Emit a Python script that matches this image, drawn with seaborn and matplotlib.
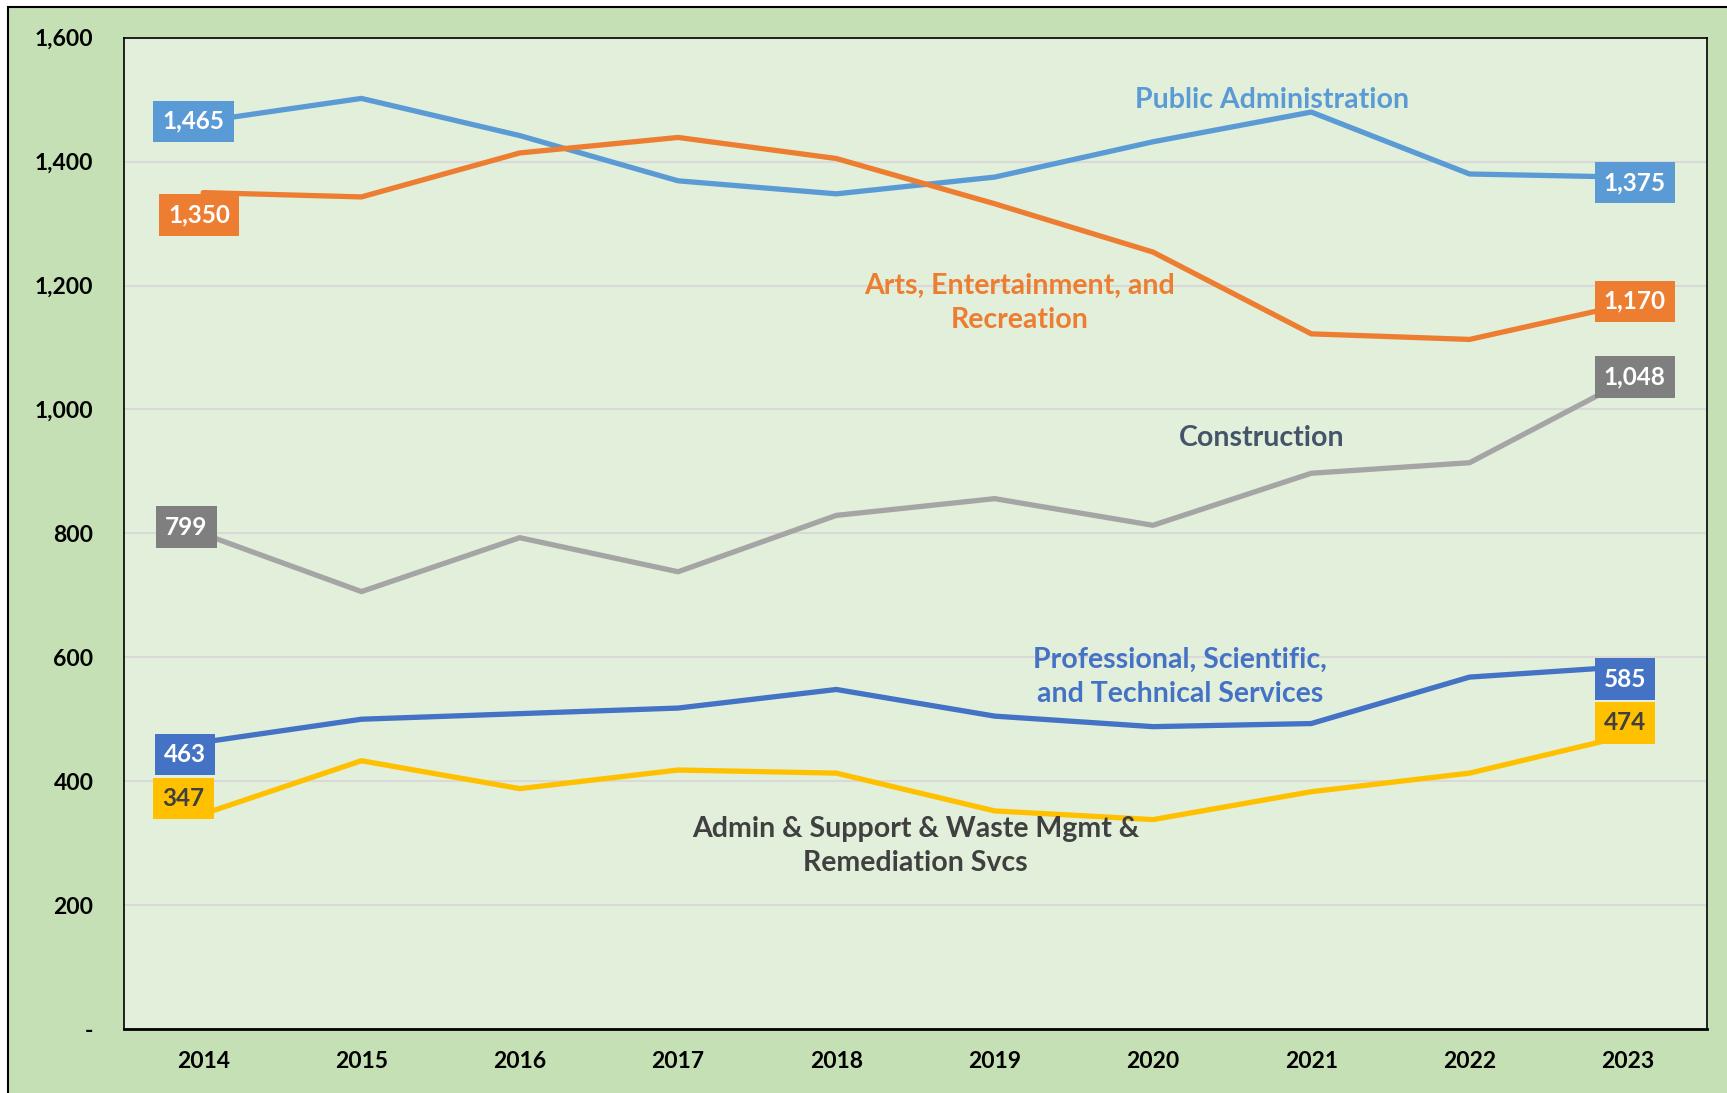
import pandas as pd
import matplotlib.pyplot as plt
import matplotlib.patches as mpatches
from matplotlib.ticker import FuncFormatter
import seaborn as sns

# ---- data ----
years = [2014, 2015, 2016, 2017, 2018, 2019, 2020, 2021, 2022, 2023]

public_admin = [1465, 1502, 1442, 1369, 1348, 1375, 1432, 1480, 1380, 1375]
arts_rec = [1350, 1343, 1414, 1439, 1405, 1332, 1254, 1122, 1113, 1170]
construction = [799, 706, 793, 738, 829, 856, 813, 897, 914, 1048]
prof_sci_tech = [463, 500, 509, 518, 548, 505, 488, 493, 568, 585]
admin_waste = [347, 433, 388, 418, 413, 352, 338, 383, 413, 474]

series_names = ["Public Administration", "Arts, Entertainment, and Recreation",
                "Construction", "Professional, Scientific, and Technical Services",
                "Admin & Support & Waste Mgmt & Remediation Svcs"]
series_values = [public_admin, arts_rec, construction, prof_sci_tech, admin_waste]

line_colors = ["#5B9BD5", "#ED7D31", "#A5A5A5", "#4472C4", "#FFC000"]
box_colors = ["#5B9BD5", "#ED7D31", "#7F7F7F", "#4472C4", "#FFC000"]
box_text = ["white", "white", "white", "white", "#404040"]

# offsets (points) of the first / last value boxes from their points
first_off = [(-7, 0), (-3, -16), (-12, 5), (-13, -9), (-14, 11)]
last_off = [(5, -4), (5, 2), (5, 2), (-2, -9), (-2, 9)]

# series name labels: text, x position (category index), y value, colour
name_text = ["Public Administration", "Arts, Entertainment, and\nRecreation",
             "Construction", "Professional, Scientific,\nand Technical Services",
             "Admin & Support & Waste Mgmt &\nRemediation Svcs"]
name_x = [6.75, 5.16, 6.69, 6.17, 4.5]
name_y = [1500, 1172, 954, 568, 295]
name_colors = ["#5B9BD5", "#ED7D31", "#44546A", "#4472C4", "#404040"]

# ---- long table for seaborn ----
rows = []
for name, vals in zip(series_names, series_values):
    for i, (yr, v) in enumerate(zip(years, vals)):
        rows.append({"idx": i, "Year": yr, "Value": v, "Series": name})
df = pd.DataFrame(rows)

sns.set_theme(style="white")
plt.rcParams["font.family"] = ["Lato", "DejaVu Sans"]

fig = plt.figure(figsize=(17.27, 10.93), dpi=100, facecolor="white")

ax = fig.add_axes([124 / 1727, 1 - 1029 / 1093, (1707 - 124) / 1727, (1029 - 37.7) / 1093])
ax.set_facecolor("#E2EFDA")
ax.set_zorder(2)

# green chart frame behind the axes
frame = mpatches.Rectangle((8 / 1727, -0.01), 1.0, 1 - 7 / 1093 + 0.01,
                           transform=fig.transFigure, facecolor="#C5E0B4",
                           edgecolor="black", linewidth=1.5, zorder=-10)
fig.add_artist(frame)

sns.lineplot(data=df, x="idx", y="Value", hue="Series", hue_order=series_names,
             palette=line_colors, linewidth=3.8, legend=False, sort=False, ax=ax)

ax.set_xlim(-0.5, len(years) - 0.5)
ax.set_ylim(0, 1600)
ax.set_yticks(range(0, 1601, 200))
ax.yaxis.set_major_formatter(FuncFormatter(lambda v, p: "-" if v == 0 else f"{int(v):,}"))
ax.set_xticks(range(len(years)))
ax.set_xticklabels([str(y) for y in years])
ax.grid(axis="y", color="#D9D9D9", linewidth=1.5)
ax.set_axisbelow(True)
ax.tick_params(axis="y", length=0, pad=22, labelsize=16.5)
ax.tick_params(axis="x", length=0, pad=16, labelsize=16.5)
for lab in ax.get_xticklabels() + ax.get_yticklabels():
    lab.set_fontweight("bold")
    lab.set_color("black")
ax.set_xlabel("")
ax.set_ylabel("")
for side in ["left", "right", "top"]:
    ax.spines[side].set_color("black")
    ax.spines[side].set_linewidth(1.2)
ax.spines["bottom"].set_color("black")
ax.spines["bottom"].set_linewidth(2)

# value boxes at first and last years
for k, vals in enumerate(series_values):
    for idx, off in [(0, first_off[k]), (len(years) - 1, last_off[k])]:
        ax.annotate(f"{vals[idx]:,}", xy=(idx, vals[idx]), xytext=off,
                    textcoords="offset points", ha="center", va="center",
                    fontsize=17.5, fontweight="bold", color=box_text[k], zorder=5,
                    bbox=dict(boxstyle="square,pad=0.38", fc=box_colors[k], ec="none"))

# series names
for t, x, y, c in zip(name_text, name_x, name_y, name_colors):
    ax.text(x, y, t, ha="center", va="center", fontsize=20.5, fontweight="bold",
            color=c, linespacing=1.4, zorder=4)

fig.savefig("out.png", dpi=100, facecolor="white")
